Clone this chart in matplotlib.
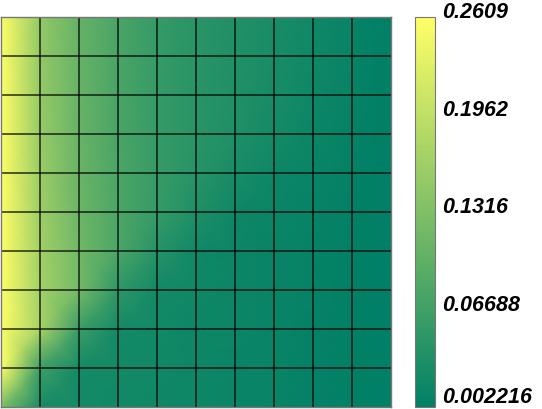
import matplotlib
matplotlib.use("Agg")
import matplotlib.pyplot as plt
import numpy as np

# node coordinates of the 10x10 mesh
x_nodes = list(range(11))
y_nodes = list(range(11))

# field values at the mesh nodes, bottom row (y=0) first
row_y0 = [0.130, 0.026, 0.023, 0.021, 0.019, 0.017, 0.014, 0.011, 0.008, 0.005, 0.0022]
row_y1 = [0.2609, 0.065, 0.024, 0.022, 0.020, 0.017, 0.014, 0.011, 0.008, 0.005, 0.0022]
row_y2 = [0.2609, 0.172, 0.062, 0.023, 0.021, 0.018, 0.015, 0.012, 0.008, 0.005, 0.0022]
row_y3 = [0.2609, 0.168, 0.120, 0.050, 0.022, 0.019, 0.015, 0.012, 0.009, 0.005, 0.0024]
row_y4 = [0.2609, 0.166, 0.117, 0.080, 0.042, 0.020, 0.016, 0.012, 0.009, 0.006, 0.0025]
row_y5 = [0.2609, 0.162, 0.113, 0.080, 0.058, 0.034, 0.018, 0.013, 0.010, 0.006, 0.0026]
row_y6 = [0.2609, 0.158, 0.110, 0.079, 0.058, 0.043, 0.028, 0.017, 0.012, 0.007, 0.0028]
row_y7 = [0.2609, 0.155, 0.108, 0.078, 0.057, 0.044, 0.035, 0.024, 0.015, 0.008, 0.003]
row_y8 = [0.2609, 0.153, 0.107, 0.078, 0.057, 0.044, 0.036, 0.027, 0.018, 0.010, 0.003]
row_y9 = [0.2609, 0.151, 0.106, 0.077, 0.057, 0.044, 0.036, 0.028, 0.019, 0.011, 0.003]
row_y10 = [0.2609, 0.150, 0.105, 0.077, 0.056, 0.044, 0.036, 0.028, 0.019, 0.011, 0.003]

# colorbar range and tick labels
v_min = 0.002216
v_max = 0.2609
cbar_ticks = [0.002216, 0.06688, 0.1316, 0.1962, 0.2609]
cbar_labels = ["0.002216", "0.06688", "0.1316", "0.1962", "0.2609"]

W, H = 542, 410
fig = plt.figure(figsize=(W / 100, H / 100), dpi=100)

ax = fig.add_axes([1 / W, 2 / H, 390 / W, 390 / H])
cax = fig.add_axes([415 / W, 2 / H, 20 / W, 390 / H])

values = np.array([row_y0, row_y1, row_y2, row_y3, row_y4, row_y5,
                   row_y6, row_y7, row_y8, row_y9, row_y10])
X, Y = np.meshgrid(x_nodes, y_nodes)

mesh = ax.pcolormesh(X, Y, values, shading="gouraud", cmap="summer",
                     vmin=v_min, vmax=v_max)

# mesh lines on top
ax.vlines(x_nodes[1:-1], y_nodes[0], y_nodes[-1], colors="black", alpha=0.75, linewidth=1.2)
ax.hlines(y_nodes[1:-1], x_nodes[0], x_nodes[-1], colors="black", alpha=0.75, linewidth=1.2)

ax.set_xlim(x_nodes[0], x_nodes[-1])
ax.set_ylim(y_nodes[0], y_nodes[-1])
ax.set_xticks([])
ax.set_yticks([])
for s in ax.spines.values():
    s.set_color("#777777")
    s.set_linewidth(1.0)

cb = fig.colorbar(mesh, cax=cax)
cb.outline.set_edgecolor("#777777")
cb.outline.set_linewidth(0.8)
cb.set_ticks(cbar_ticks)
cb.set_ticklabels(cbar_labels)
cax.tick_params(length=0, pad=5)
labels = cax.get_yticklabels()
for t in labels:
    t.set_fontfamily("Liberation Sans")
    t.set_fontweight("bold")
    t.set_fontstyle("italic")
    t.set_fontsize(15.5)
    t.set_verticalalignment("baseline")
# lowest label sits just above the bottom edge
labels[0].set_verticalalignment("bottom")

fig.savefig("out.png", dpi=100)
